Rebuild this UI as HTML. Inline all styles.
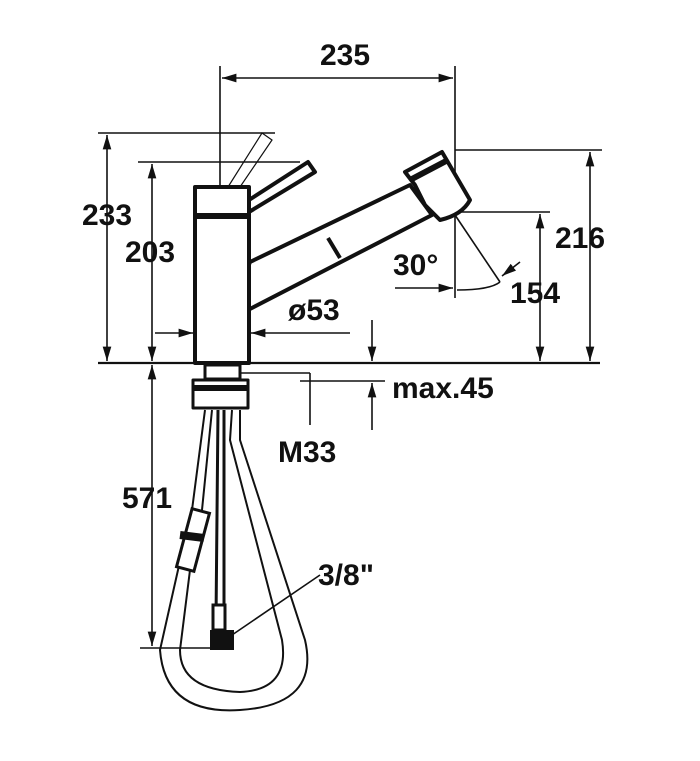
<!DOCTYPE html>
<html><head><style>body{margin:0;background:#fff}svg{display:block}text{font-family:"Liberation Sans",sans-serif;font-weight:bold;font-size:30px;fill:#111}</style></head>
<body><svg width="700" height="761" viewBox="0 0 700 761">
<defs><marker id="a" viewBox="0 0 10 10" refX="10" refY="5" markerWidth="9" markerHeight="9" orient="auto-start-reverse"><path d="M0,2 L10,5 L0,8z" fill="#111"/></marker></defs>
<g stroke="#111" fill="none" stroke-width="1.6">
<!-- extension lines -->
<line x1="220" y1="66" x2="220" y2="225"/><line x1="455" y1="66" x2="455" y2="298"/>
<line x1="222" y1="78" x2="453" y2="78" marker-start="url(#a)" marker-end="url(#a)"/>
<line x1="98" y1="133" x2="275" y2="133"/><line x1="138" y1="162" x2="300" y2="162"/>
<line x1="107" y1="135" x2="107" y2="361" marker-start="url(#a)" marker-end="url(#a)"/>
<line x1="152" y1="164" x2="152" y2="361" marker-start="url(#a)" marker-end="url(#a)"/>
<line x1="98" y1="363" x2="600" y2="363" stroke-width="2.2"/>
<line x1="455" y1="150" x2="602" y2="150"/><line x1="460" y1="212" x2="550" y2="212"/>
<line x1="590" y1="152" x2="590" y2="361" marker-start="url(#a)" marker-end="url(#a)"/>
<line x1="540" y1="214" x2="540" y2="361" marker-start="url(#a)" marker-end="url(#a)"/>
<line x1="455" y1="215" x2="500" y2="282"/>
<path d="M457,290 Q490,290 500,282"/>
<line x1="395" y1="288" x2="453" y2="288" marker-end="url(#a)"/>
<line x1="520" y1="262" x2="502" y2="276" marker-end="url(#a)"/>
<line x1="155" y1="333" x2="193" y2="333" marker-end="url(#a)"/>
<line x1="350" y1="333" x2="251" y2="333" marker-end="url(#a)"/>
<line x1="372" y1="320" x2="372" y2="361" marker-end="url(#a)"/>
<line x1="372" y1="430" x2="372" y2="383" marker-end="url(#a)"/>
<line x1="300" y1="381" x2="385" y2="381"/>
<line x1="240" y1="373" x2="310" y2="373"/><line x1="310" y1="373" x2="310" y2="425"/>
<line x1="140" y1="648" x2="215" y2="648"/>
<line x1="152" y1="365" x2="152" y2="646" marker-start="url(#a)" marker-end="url(#a)"/>
<line x1="232" y1="635" x2="320" y2="575"/>
<!-- ghost lever -->
<path d="M228,187 L262,133 L272,140 L240,187" stroke-width="1.2"/>
</g>
<g stroke="#111" fill="#fff" stroke-width="4" stroke-linejoin="round">
<path d="M249,200 L308,162 L315,172 L249,212"/>
<path d="M250,262 L410,185 L432,215 L248,310 Q238,290 250,262z"/>
<line x1="328" y1="238" x2="340" y2="258"/>
<path d="M405,172 L442,152 L470,200 Q462,215 440,220 L425,205 L415,185z"/>
<line x1="410" y1="180" x2="448" y2="160" stroke-width="6"/>
<rect x="195" y="187" width="54" height="176"/>
<line x1="195" y1="216" x2="249" y2="216" stroke-width="6"/>
<rect x="205" y="365" width="35" height="14" stroke-width="3"/>
<rect x="193" y="380" width="55" height="28" stroke-width="3"/>
<line x1="193" y1="388" x2="248" y2="388" stroke-width="6"/>
</g>
<g stroke="#111" fill="none" stroke-width="2">
<path d="M205,410 L192,510 L178,570 L160,650 Q165,715 240,710 Q320,705 305,640 L240,440 L240,410"/>
<path d="M212,410 L202,510 L190,570 L180,650 Q180,690 240,692 Q290,690 282,640 L230,440 L232,410"/>
<path d="M218,410 L216,620 M224,410 L224,620" stroke-width="3"/>
</g>
<g stroke="#111" fill="#fff" stroke-width="3">
<rect x="184" y="510" width="18" height="60" transform="rotate(15 193 540)"/>
<line x1="180" y1="535" x2="204" y2="538" stroke-width="8"/>
<rect x="213" y="605" width="12" height="25"/>
</g>
<rect x="210" y="630" width="24" height="20" fill="#111"/>
<text x="320" y="65">235</text>
<text x="82" y="225">233</text>
<text x="125" y="262">203</text>
<text x="555" y="248">216</text>
<text x="510" y="303">154</text>
<text x="393" y="275">30°</text>
<text x="288" y="320">ø53</text>
<text x="392" y="398">max.45</text>
<text x="278" y="462">M33</text>
<text x="122" y="508">571</text>
<text x="318" y="585">3/8"</text>
</svg></body></html>
